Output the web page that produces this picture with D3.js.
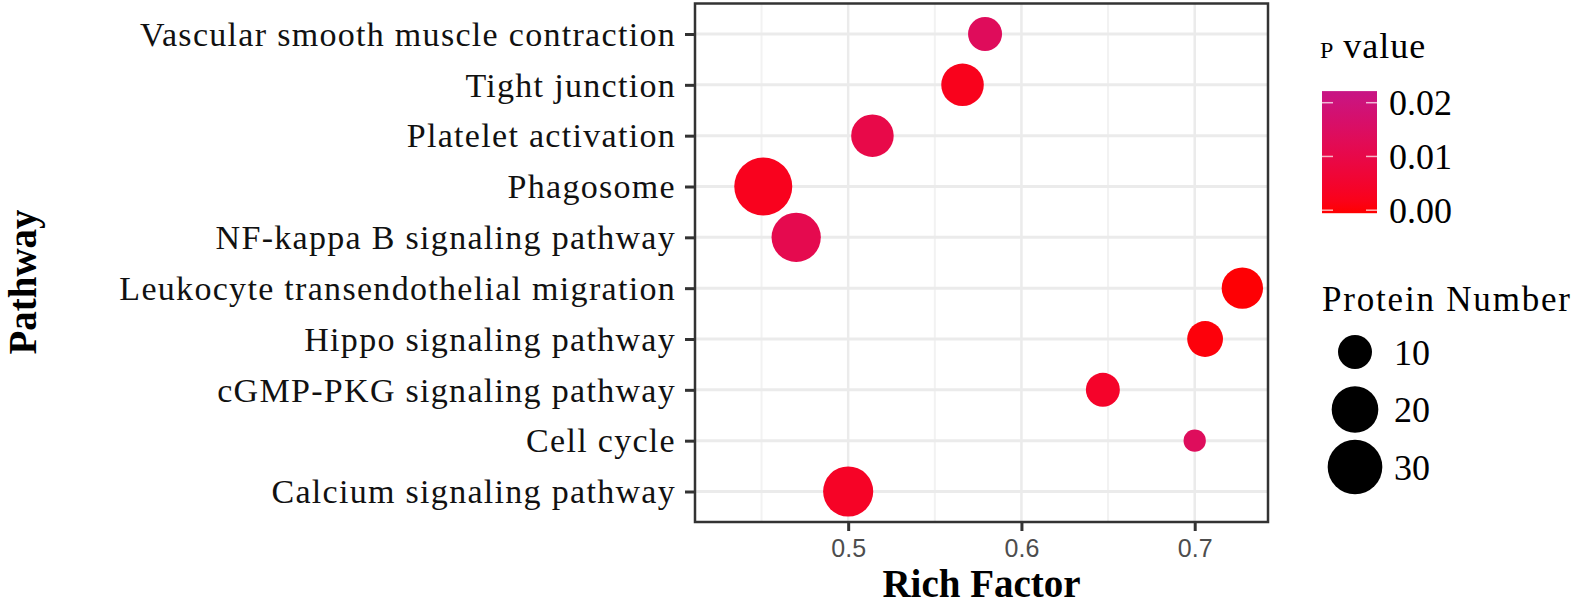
<!DOCTYPE html>
<html>
<head>
<meta charset="utf-8">
<script src="https://cdn.jsdelivr.net/npm/d3@7"></script>
<style>
  body { margin: 0; background: #fff; }
  svg { display: block; }
</style>
</head>
<body>
<svg id="chart" width="1595" height="606"></svg>
<script>
// pathway enrichment bubble chart

// data, top row first
var pathways = [
  'Vascular smooth muscle contraction',
  'Tight junction',
  'Platelet activation',
  'Phagosome',
  'NF-kappa B  signaling pathway',
  'Leukocyte transendothelial migration',
  'Hippo signaling pathway',
  'cGMP-PKG signaling pathway',
  'Cell cycle',
  'Calcium signaling pathway'
];
var richFactor = [0.579, 0.566, 0.514, 0.451, 0.470, 0.7275, 0.706, 0.647, 0.700, 0.500];
var proteinNumber = [10, 16, 16, 35, 23, 15, 11, 10, 7, 24];
var pValue = [0.0135, 0.0025, 0.0100, 0.0028, 0.0112, 0.0003, 0.0008, 0.0045, 0.0137, 0.0040];

var xTicks = [0.5, 0.6, 0.7];
var xMinorTicks = [0.45, 0.55, 0.65];
var colorTicks = [0, 0.01, 0.02];
var colorTickLabels = ['0.00', '0.01', '0.02'];
var sizeBreaks = [10, 20, 30];

var svg = d3.select('#chart');

// panel box
var panel = { left: 695, right: 1268, top: 3.5, bottom: 522 };

var x = d3.scaleLinear()
  .domain([0.4116, 0.7423])
  .range([panel.left, panel.right]);

var y = d3.scalePoint()
  .domain(pathways)
  .range([panel.top, panel.bottom])
  .padding(0.6);

// p value -> colour (red to mediumvioletred, like ggplot's lab gradient)
var color = d3.scaleLinear()
  .domain([0, 0.0216])
  .range(['#ff0000', '#c71585'])
  .interpolate(d3.interpolateLab);

// protein number -> radius, area style scale (sqrt of rescaled value)
var sizeT = d3.scaleLinear().domain([7, 35]).range([0, 1]).clamp(true);
var radius = d3.scaleLinear().domain([0, 1]).range([11.15, 29]);
function r(v) { return radius(Math.sqrt(sizeT(v))); }

var points = pathways.map(function(p, i) {
  return { name: p, rich: richFactor[i], n: proteinNumber[i], p: pValue[i] };
});

// grid lines
var grid = svg.append('g').attr('id', 'grid');
grid.selectAll('line.minor')
  .data(xMinorTicks)
  .enter()
  .append('line')
  .attr('x1', function(d) { return x(d); })
  .attr('x2', function(d) { return x(d); })
  .attr('y1', panel.top)
  .attr('y2', panel.bottom)
  .style('stroke', '#f2f2f2')
  .style('stroke-width', 2);
grid.selectAll('line.vmajor')
  .data(xTicks)
  .enter()
  .append('line')
  .attr('x1', function(d) { return x(d); })
  .attr('x2', function(d) { return x(d); })
  .attr('y1', panel.top)
  .attr('y2', panel.bottom)
  .style('stroke', '#ebebeb')
  .style('stroke-width', 2.5);
grid.selectAll('line.hmajor')
  .data(pathways)
  .enter()
  .append('line')
  .attr('x1', panel.left)
  .attr('x2', panel.right)
  .attr('y1', function(d) { return y(d); })
  .attr('y2', function(d) { return y(d); })
  .style('stroke', '#ebebeb')
  .style('stroke-width', 3);

// bubbles
svg.append('g').attr('id', 'bubbles')
  .selectAll('circle')
  .data(points)
  .enter()
  .append('circle')
  .attr('cx', function(d) { return x(d.rich); })
  .attr('cy', function(d) { return y(d.name); })
  .attr('r', function(d) { return r(d.n); })
  .style('fill', function(d) { return color(d.p); });

// panel border
svg.append('rect')
  .attr('x', panel.left)
  .attr('y', panel.top)
  .attr('width', panel.right - panel.left)
  .attr('height', panel.bottom - panel.top)
  .style('fill', 'none')
  .style('stroke', '#333')
  .style('stroke-width', 2.5);

// axes
var yAxis = svg.append('g')
  .attr('transform', 'translate(' + panel.left + ',0)')
  .call(d3.axisLeft(y).tickSize(10).tickPadding(9));
yAxis.select('.domain').remove();
yAxis.selectAll('.tick line').style('stroke', '#333').style('stroke-width', 3);
yAxis.selectAll('.tick text')
  .attr('font-family', '"Liberation Serif", "DejaVu Serif", serif')
  .attr('font-size', 34)
  .attr('letter-spacing', 1.3)
  .attr('dy', '0.33em')
  .style('fill', '#111');

var xAxis = svg.append('g')
  .attr('transform', 'translate(0,' + panel.bottom + ')')
  .call(d3.axisBottom(x).tickValues(xTicks).tickFormat(d3.format('.1f')).tickSize(9).tickPadding(8));
xAxis.select('.domain').remove();
xAxis.selectAll('.tick line').style('stroke', '#333').style('stroke-width', 3);
xAxis.selectAll('.tick text')
  .attr('font-family', '"Liberation Sans", Arial, sans-serif')
  .attr('font-size', 25)
  .style('fill', '#4d4d4d');

// axis titles
svg.append('text')
  .attr('x', (panel.left + panel.right) / 2)
  .attr('y', 597)
  .attr('text-anchor', 'middle')
  .attr('font-family', '"Liberation Serif", serif')
  .attr('font-weight', 'bold')
  .attr('font-size', 39)
  .text('Rich Factor');

svg.append('text')
  .attr('transform', 'translate(36,282) rotate(-90)')
  .attr('text-anchor', 'middle')
  .attr('font-family', '"Liberation Serif", serif')
  .attr('font-weight', 'bold')
  .attr('font-size', 39)
  .text('Pathway');

// colour legend
var legendFont = '"Liberation Serif", serif';
var cTitle = svg.append('text')
  .attr('x', 1320)
  .attr('y', 58)
  .attr('font-family', legendFont)
  .attr('font-size', 36);
cTitle.append('tspan').attr('font-size', 24).text('P');
cTitle.append('tspan').attr('dx', 10).attr('letter-spacing', 1).text('value');

var cy = d3.scaleLinear().domain([0, 0.0216]).range([210.2, 94.1]);
var grad = svg.append('defs').append('linearGradient')
  .attr('id', 'pgrad')
  .attr('x1', 0).attr('y1', 1).attr('x2', 0).attr('y2', 0);
grad.selectAll('stop')
  .data(d3.range(0, 1.0001, 0.1))
  .enter()
  .append('stop')
  .attr('offset', function(d) { return d; })
  .attr('stop-color', function(d) { return color(d * 0.0216); });

var barX = 1322, barW = 55;
svg.append('rect')
  .attr('x', barX)
  .attr('y', cy(0.0216) - 3)
  .attr('width', barW)
  .attr('height', cy(0) - cy(0.0216) + 6)
  .style('fill', 'url(#pgrad)');

var cTicks = svg.append('g').selectAll('g')
  .data(colorTicks)
  .enter()
  .append('g');
cTicks.append('line')
  .attr('x1', barX).attr('x2', barX + 11)
  .attr('y1', function(d) { return cy(d); })
  .attr('y2', function(d) { return cy(d); })
  .style('stroke', '#fff').style('stroke-opacity', 0.7).style('stroke-width', 1.5);
cTicks.append('line')
  .attr('x1', barX + barW - 11).attr('x2', barX + barW)
  .attr('y1', function(d) { return cy(d); })
  .attr('y2', function(d) { return cy(d); })
  .style('stroke', '#fff').style('stroke-opacity', 0.7).style('stroke-width', 1.5);
cTicks.append('text')
  .attr('x', 1389)
  .attr('y', function(d) { return cy(d); })
  .attr('dy', '0.35em')
  .attr('font-family', legendFont)
  .attr('font-size', 36)
  .text(function(d, i) { return colorTickLabels[i]; });

// size legend
svg.append('text')
  .attr('x', 1322)
  .attr('y', 311)
  .attr('font-family', legendFont)
  .attr('font-size', 35)
  .attr('letter-spacing', 1.8)
  .text('Protein Number');

var sizeY = d3.scalePoint().domain(sizeBreaks).range([352, 467]);
var sItems = svg.append('g').selectAll('g')
  .data(sizeBreaks)
  .enter()
  .append('g');
sItems.append('circle')
  .attr('cx', 1355)
  .attr('cy', function(d) { return sizeY(d); })
  .attr('r', function(d) { return r(d); })
  .style('fill', '#000');
sItems.append('text')
  .attr('x', 1394)
  .attr('y', function(d) { return sizeY(d); })
  .attr('dy', '0.35em')
  .attr('font-family', legendFont)
  .attr('font-size', 36)
  .text(function(d) { return d; });
</script>
</body>
</html>
